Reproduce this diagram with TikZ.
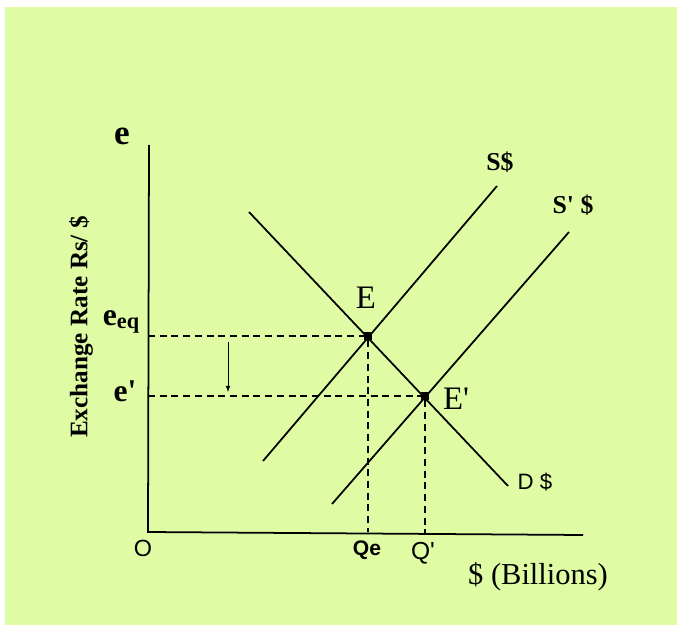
\documentclass[tikz,border=0pt]{standalone}
\usepackage{fontspec}
\setmainfont{Liberation Serif}
\newfontfamily\plotsans{Liberation Sans}
\usepackage{tikz}
\usetikzlibrary{calc}
\definecolor{bgpaper}{RGB}{223,252,164}

\begin{document}
\begin{tikzpicture}[x=0.03cm, y=-0.03cm, line width=1.5pt]
                \useasboundingbox (0,0) rectangle (677,625);
                \fill[bgpaper] (5,7) rectangle (677,625);
                % axes
                \coordinate (O) at (148,532);
                \coordinate (ytop) at (149,145);
                \coordinate (xend) at (583,535);
                \draw (ytop) -- (O) -- (xend);
                % equilibrium points
                \node[fill, inner sep=0pt, minimum size=6pt] (E) at (368,336) {};
                \node[fill, inner sep=0pt, minimum size=6pt] (Ep) at (425,396) {};
                % curves
                \coordinate (s1lo) at (263,461);
                \coordinate (s1hi) at (497,186);
                \coordinate (s2lo) at (332,504);
                \coordinate (s2hi) at (569,232);
                \coordinate (dlo) at (249,212);
                \coordinate (dhi) at (508,486);
                \draw (s1lo) -- (s1hi);
                \draw (s2lo) -- (s2hi);
                \draw (dlo) -- (dhi);
                % guide lines
                \draw [dashed, line width=1.2pt, dash pattern=on 6pt off 4pt] (E -| O) -- (E) -- (E |- O);
                \draw [dashed, line width=1.2pt, dash pattern=on 6pt off 4pt] (Ep -| O) -- (Ep) -- (Ep |- xend);
                \coordinate (arra) at (228,342);
                \coordinate (arrb) at (228,392);
                \draw [-latex, line width=0.8pt] (arra) -- (arrb);
                % labels
                \node[font=\bfseries\fontsize{30}{30}\selectfont] (elab) at (122,136) {e};
                \node[font=\bfseries\fontsize{27}{27}\selectfont] (eeq) at (121,322) {e\raisebox{-3pt}{\fontsize{19}{19}\selectfont eq}};
                \node[font=\bfseries\fontsize{27}{27}\selectfont] (epr) at (125,391) {e\textquotesingle};
                \node[rotate=90, font=\bfseries\fontsize{21.5}{21.5}\selectfont] (ylab) at (81,327) {Exchange Rate Rs/ \$};
                \node[font=\plotsans\fontsize{20}{20}\selectfont] (olab) at (143,548) {O};
                \node[font=\plotsans\bfseries\fontsize{18}{18}\selectfont] (qelab) at (367,550) {Qe};
                \node[font=\plotsans\fontsize{21}{21}\selectfont] (qplab) at (423,553) {Q\textquotesingle};
                \node[font=\fontsize{26}{26}\selectfont] (xlab) at (538,577) {\$ (Billions)};
                \node[font=\fontsize{28}{28}\selectfont] (Elab) at (366,298) {E};
                \node[font=\fontsize{28}{28}\selectfont] (Eplab) at (456,399) {E\textquotesingle};
                \node[font=\bfseries\fontsize{22}{22}\selectfont] (slab) at (500,162) {S\$};
                \node[font=\bfseries\fontsize{22}{22}\selectfont] (splab) at (573,205) {S\textquotesingle{} \$};
                \node[font=\plotsans\fontsize{19}{19}\selectfont] (dlab) at (535,482) {D \$};
            \end{tikzpicture}
\end{document}
